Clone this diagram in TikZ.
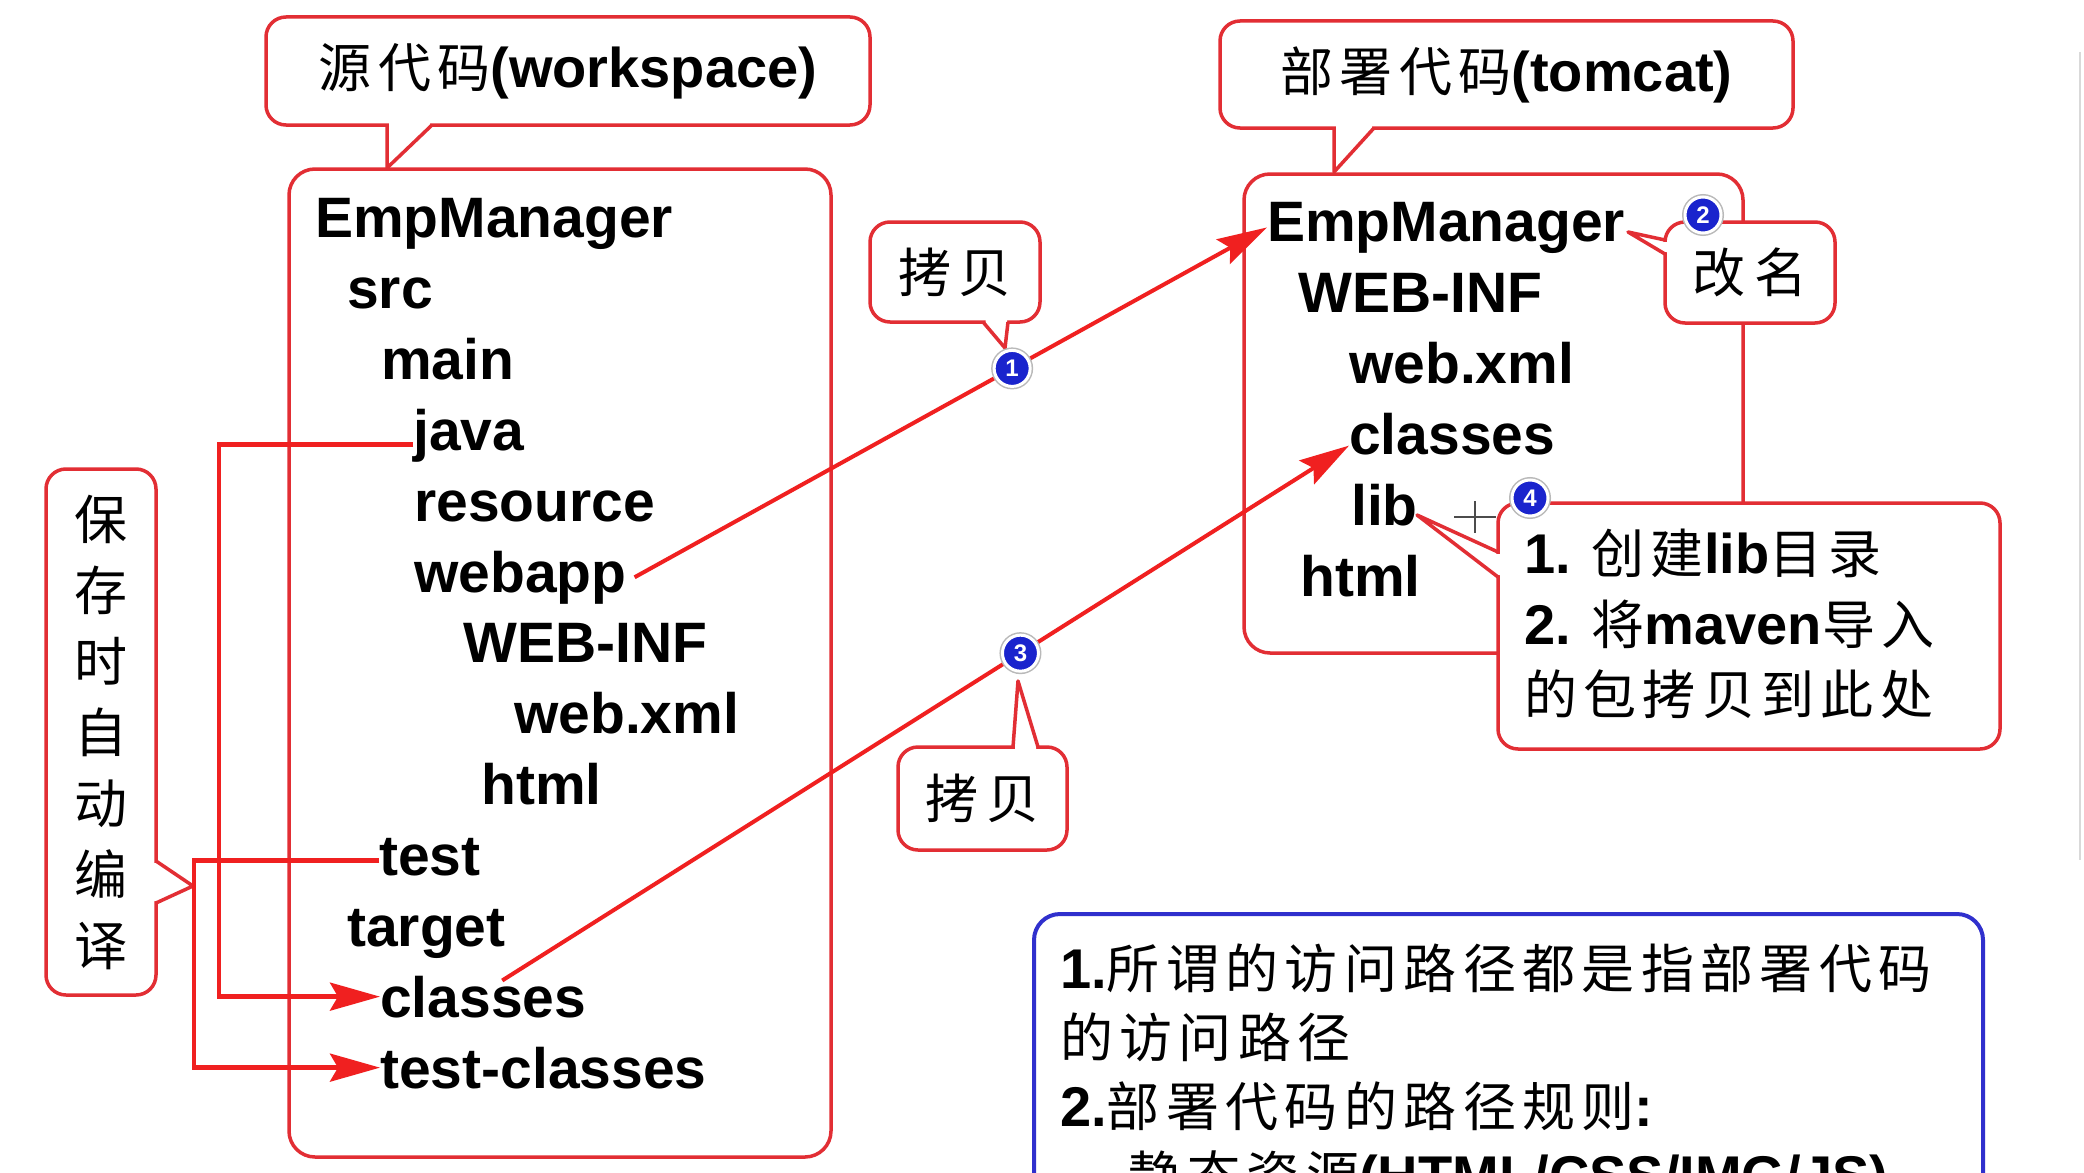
\documentclass[tikz,border=0pt]{standalone}
\usepackage{fontspec}
\setmainfont{Liberation Sans}
\newfontfamily\cjkw[LetterSpace=12]{Noto Sans CJK SC}
\newfontfamily\cjkn{Noto Sans CJK SC}
\usetikzlibrary{arrows.meta}
\definecolor{boxred}{RGB}{226,46,52}
\definecolor{arrred}{RGB}{240,32,32}
\definecolor{badgeblue}{RGB}{26,36,205}
\definecolor{noteblue}{RGB}{48,48,205}
\newcommand\treefont{\fontsize{57}{70}\selectfont\bfseries}
\newcommand\latb{\fontsize{56}{70}\selectfont\bfseries}
\newcommand\cjw{\fontsize{53}{70}\selectfont\cjkw}
\newcommand\cjn{\fontsize{53}{71}\selectfont\cjkn}
\newcommand\badgefont{\fontsize{24}{24}\selectfont\bfseries}
\begin{document}
\begin{tikzpicture}[x=1pt,y=-1pt,
  tree/.style={anchor=base west, inner sep=0pt, font=\treefont},
  txt/.style={anchor=base west, inner sep=0pt},
  callbox/.style={draw=boxred, line width=3.5pt, rounded corners=20pt, fill=white, inner sep=0pt},
  mainbox/.style={draw=boxred, line width=3.5pt, rounded corners=26pt, fill=white, inner sep=0pt},
  ptrline/.style={draw=boxred, line width=3.5pt, line join=round},
  arr/.style={draw=arrred, line width=4pt, -{Stealth[length=50pt,width=28pt,inset=8pt]}},
  brk/.style={draw=arrred, line width=4.5pt, -{Stealth[length=50pt,width=28pt,inset=8pt]}},
  badge/.style={circle, fill=badgeblue, draw=white, line width=3pt, minimum size=36pt, inner sep=0pt, text=white, font=\badgefont, preaction={draw=gray!55, line width=6pt}}
]
\useasboundingbox (0,0) rectangle (2084,1172);
\fill[white] (0,0) rectangle (2084,1172);
\draw[gray!30, line width=2pt] (2080,52) -- (2080,860);

% main boxes
\node[mainbox, minimum width=542pt, minimum height=988pt] (srcbox) at (560,663) {};
\node[mainbox, minimum width=499pt, minimum height=479pt] (depbox) at (1493.5,413.5) {};

% title callouts
\node[callbox, minimum width=604pt, minimum height=108pt] (srcT) at (568,71) {{\cjw 源代码}{\latb (workspace)}};
\fill[white] (389,118) -- (389,165) -- (430,127) -- (430,118) -- cycle;
\draw[ptrline] (387,125) -- (387,168) -- (432,125);

\node[callbox, minimum width=573pt, minimum height=107pt] (tomT) at (1506.5,74.5) {{\cjw 部署代码}{\latb (tomcat)}};
\fill[white] (1336,121) -- (1336,168) -- (1372,130) -- (1372,121) -- cycle;
\draw[ptrline] (1334,128) -- (1334,172) -- (1374,128);

% copy callouts
\node[callbox, minimum width=170pt, minimum height=100pt, font=\cjn] (copy1) at (955,272) {拷\hspace{8pt}贝};
\fill[white] (985.5,315) -- (985.5,324) -- (1005,345) -- (1007,324) -- (1007,315) -- cycle;
\draw[ptrline] (983,322) -- (1005,348) -- (1008,322);

\node[callbox, minimum width=169pt, minimum height=103pt, font=\cjn] (copy2) at (982.5,798.5) {拷\hspace{8pt}贝};
\fill[white] (1015,754) -- (1015,745) -- (1018,685) -- (1036,745) -- (1036,754) -- cycle;
\draw[ptrline] (1013,747) -- (1018,681) -- (1038,747);

% save callout
\node[callbox, minimum width=110pt, minimum height=526pt, align=center, font=\cjn] (save) at (101,732) {保\\存\\时\\自\\动\\编\\译};
\fill[white] (149,863) -- (158,863) -- (189,886) -- (158,901) -- (149,901) -- cycle;
\draw[ptrline] (156,861) -- (193,886) -- (156,903);

% rename callout
\node[callbox, minimum width=170pt, minimum height=101pt, font=\cjn] (rename) at (1750,272.5) {改\hspace{10pt}名};
\fill[white] (1672,242) -- (1663,242) -- (1632,233) -- (1663,252) -- (1672,252) -- cycle;
\draw[ptrline] (1665,240) -- (1628,232) -- (1665,254);

% lib note callout
\node[callbox, minimum width=502pt, minimum height=246pt] (libnote) at (1749,626) {};
\fill[white] (1505,554) -- (1496,554) -- (1422,517) -- (1496,575) -- (1505,575) -- cycle;
\draw[ptrline] (1498,552) -- (1417,515) -- (1498,577);
\node[txt] (l1) at (1524,573) {{\latb 1. }{\cjw 创建}{\latb lib}{\cjw 目录}};
\node[txt] (l2) at (1524,644) {{\latb 2. }{\cjw 将}{\latb maven}{\cjw 导入}};
\node[txt] (l3) at (1524,714) {\cjw 的包拷贝到此处};

% blue note
\node[draw=noteblue, line width=4pt, rounded corners=26pt, fill=white, minimum width=949pt, minimum height=316pt, inner sep=0pt] (note) at (1508.5,1072) {};
\node[txt] (n1) at (1060,988) {{\latb 1.}{\cjw 所谓的访问路径都是指部署代码}};
\node[txt] (n2) at (1060,1057) {\cjw 的访问路径};
\node[txt] (n3) at (1060,1126) {{\latb 2.}{\cjw 部署代码的路径规则}{\latb :}};
\node[txt] (n4) at (1128,1195) {{\cjw 静态资源}{\latb (HTML/CSS/IMG/JS)}};

% source tree
\node[tree] (emp1) at (315,237) {EmpManager};
\node[tree] (src) at (347,308) {src};
\node[tree] (main) at (381,379) {main};
\node[tree] (java) at (413,450) {java};
\node[tree] (res) at (414,521) {resource};
\node[tree] (webapp) at (414,592) {webapp};
\node[tree] (webinf1) at (463,662) {WEB-INF};
\node[tree] (webxml1) at (514,733) {web.xml};
\node[tree] (html1) at (481,804) {html};
\node[tree] (test) at (379,875) {test};
\node[tree] (target) at (347,946) {target};
\node[tree] (classes1) at (380,1017) {classes};
\node[tree] (testcls) at (380,1088) {test-classes};

% deployed tree
\node[tree] (emp2) at (1267,241) {EmpManager};
\node[tree] (webinf2) at (1298,312) {WEB-INF};
\node[tree] (webxml2) at (1349,383) {web.xml};
\node[tree] (classes2) at (1349,454) {classes};
\node[tree] (lib) at (1351,525) {lib};
\node[tree] (html2) at (1300,596) {html};

% cursor cross
\draw[gray!60!black, line width=1.3pt] (1454,517) -- (1496,517) (1475,501) -- (1475,533);

% connectors
\draw[brk] ([yshift=-9pt]java.west) -- ++(-194,0) |- (classes1.west);
\draw[brk] ([yshift=-4pt]test.west) -- ++(-185,0) |- (testcls.west);
\draw[arr] ([xshift=8pt]webapp.east) -- (emp2.west) node[badge,pos=0.597] (b1) {1};
\draw[arr] ([xshift=19pt,yshift=-5pt]classes1.north) -- ([yshift=-12pt]classes2.west) node[badge,pos=0.612] (b3) {3};

% badges
\node[badge] (b2) at (1703,215) {2};
\node[badge] (b4) at (1530,498) {4};
\end{tikzpicture}
\end{document}
